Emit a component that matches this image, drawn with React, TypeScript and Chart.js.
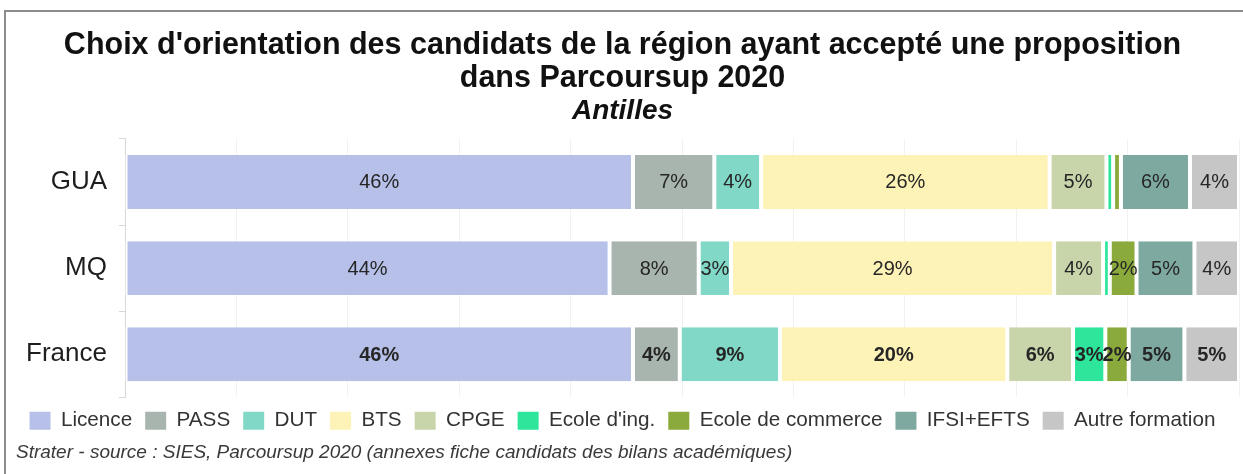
import React, { useEffect, useRef } from "react";
import { Chart, registerables } from "chart.js";

Chart.register(...registerables);

const regions = ["GUA", "MQ", "France"];
const seriesNames = [
  "Licence",
  "PASS",
  "DUT",
  "BTS",
  "CPGE",
  "Ecole d'ing.",
  "Ecole de commerce",
  "IFSI+EFTS",
  "Autre formation",
];
const seriesColors = [
  "#b6c0e8",
  "#a8b4ae",
  "#82d8c6",
  "#fdf3b6",
  "#c8d5ab",
  "#2de69c",
  "#8aaa3c",
  "#7ea9a1",
  "#c6c6c6",
];
// values per region (%), order GUA, MQ, France
const licence = [45.6, 43.5, 45.6];
const pass = [7.3, 8.0, 4.2];
const dut = [4.2, 2.9, 9.0];
const bts = [25.9, 29.0, 20.4];
const cpge = [5.1, 4.4, 5.9];
const ecoleIng = [0.6, 0.6, 2.9];
const ecoleCommerce = [0.7, 2.4, 2.1];
const ifsi = [6.2, 5.2, 5.0];
const autre = [4.4, 4.0, 4.9];

const titleLines = [
  "Choix d'orientation des candidats de la région ayant accepté une proposition",
  "dans Parcoursup 2020",
];
const subtitleText = "Antilles";
const sourceText =
  "Strater - source : SIES, Parcoursup 2020 (annexes fiche candidats des bilans académiques)";

const FONT = "'Liberation Sans', Arial, Helvetica, sans-serif";

const valueLabelPlugin = {
  id: "valueLabels",
  afterDatasetsDraw(chart: any) {
    const ctx = chart.ctx;
    ctx.save();
    ctx.textAlign = "center";
    ctx.textBaseline = "middle";
    chart.data.datasets.forEach((ds: any, di: number) => {
      const meta = chart.getDatasetMeta(di);
      meta.data.forEach((el: any, i: number) => {
        const v = ds.data[i];
        if (v < 1.5) return;
        const bold = i === 2;
        ctx.font = `${bold ? "bold " : ""}20px ${FONT}`;
        ctx.fillStyle = "#262626";
        const x = (el.x + el.base) / 2;
        ctx.fillText(Math.round(v) + "%", x, el.y + 1);
      });
    });
    ctx.restore();
  },
};

const sourcePlugin = {
  id: "sourceText",
  afterDraw(chart: any) {
    const ctx = chart.ctx;
    ctx.save();
    ctx.font = `italic 19px ${FONT}`;
    ctx.fillStyle = "#3a3a3a";
    ctx.textAlign = "left";
    ctx.textBaseline = "middle";
    ctx.fillText(sourceText, 10, 441);
    ctx.restore();
  },
};

export default function App() {
  const canvasRef = useRef<HTMLCanvasElement | null>(null);

  useEffect(() => {
    if (!canvasRef.current) return;
    const allSeries = [licence, pass, dut, bts, cpge, ecoleIng, ecoleCommerce, ifsi, autre];
    const chart = new Chart(canvasRef.current, {
      type: "bar",
      data: {
        labels: regions,
        datasets: allSeries.map((values, k) => ({
          label: seriesNames[k],
          data: values,
          backgroundColor: seriesColors[k],
          borderColor: "#ffffff",
          borderWidth: { left: 2, right: 2, top: 0, bottom: 0 },
          borderSkipped: false,
          barPercentage: 0.625,
          categoryPercentage: 1.0,
        })),
      },
      options: {
        indexAxis: "y",
        responsive: false,
        animation: false,
        layout: { padding: { left: 0, right: 4, top: 0, bottom: 33 } },
        scales: {
          x: {
            stacked: true,
            min: 0,
            max: 100,
            ticks: { display: false, stepSize: 10 },
            grid: { color: "#f1f1f1", drawTicks: false },
            border: { display: false },
          },
          y: {
            stacked: true,
            afterFit: (scale: any) => {
              scale.width = 119;
            },
            ticks: {
              color: "#1e1e1e",
              font: { family: FONT, size: 26 },
              padding: 12,
            },
            grid: { drawOnChartArea: false, tickLength: 6, color: "#d8d8d8" },
            border: { display: true, color: "#d8d8d8" },
          },
        },
        plugins: {
          title: {
            display: true,
            text: titleLines,
            color: "#111111",
            font: { family: FONT, size: 30.5, weight: "bold", lineHeight: 1.08 },
            padding: { top: 17, bottom: 0 },
          },
          subtitle: {
            display: true,
            text: subtitleText,
            color: "#111111",
            font: { family: FONT, size: 28, weight: "bold", style: "italic", lineHeight: 1.18 },
            padding: { top: 0, bottom: 11 },
          },
          legend: {
            position: "bottom",
            labels: {
              color: "#333333",
              font: { family: FONT, size: 20.7 },
              boxWidth: 21,
              boxHeight: 18,
              padding: 13,
              generateLabels: (c: any) =>
                Chart.defaults.plugins.legend.labels
                  .generateLabels(c)
                  .map((it: any) => ({ ...it, lineWidth: 0, strokeStyle: "rgba(0,0,0,0)" })),
            },
          },
          tooltip: { enabled: false },
        },
      },
      plugins: [valueLabelPlugin, sourcePlugin],
    });
    return () => chart.destroy();
  }, []);

  return (
    <div
      style={{
        position: "absolute",
        left: 0,
        top: 0,
        width: 1243,
        height: 474,
        overflow: "hidden",
        background: "#ffffff",
      }}
    >
      <div
        style={{
          position: "absolute",
          left: 4,
          top: 10,
          width: 1300,
          height: 500,
          borderTop: "2px solid #8c8c8c",
          borderLeft: "2px solid #8c8c8c",
        }}
      />
      <canvas
        ref={canvasRef}
        width={1237}
        height={462}
        style={{ position: "absolute", left: 6, top: 12, width: 1237, height: 462 }}
      />
    </div>
  );
}
